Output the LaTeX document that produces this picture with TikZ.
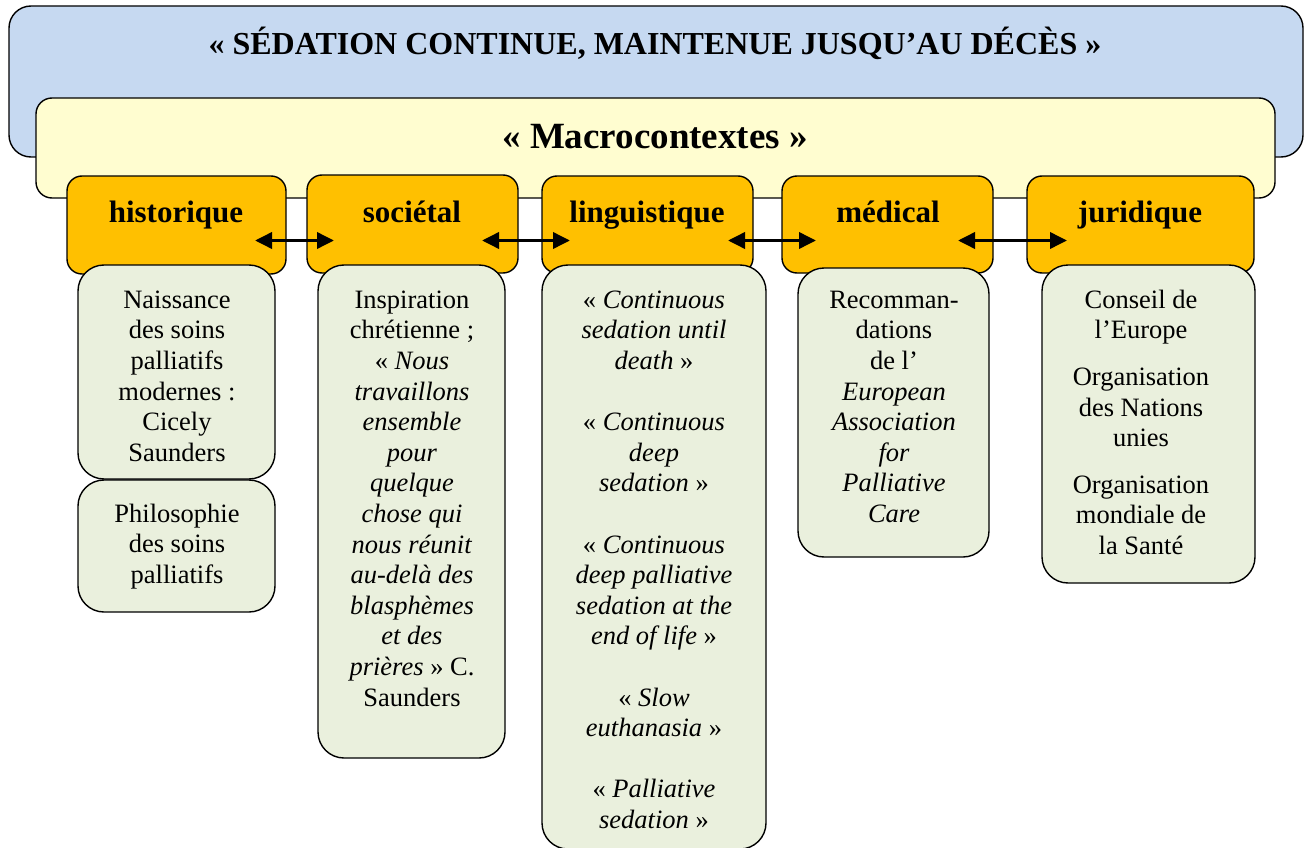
\documentclass[tikz,border=0pt]{standalone}
\usepackage{fontspec}
\setmainfont{Liberation Serif}
\usetikzlibrary{arrows.meta}
\definecolor{bluebg}{HTML}{C6D9F1}
\definecolor{yellowbg}{HTML}{FFFDD0}
\definecolor{orangebg}{HTML}{FFC000}
\definecolor{greenbg}{HTML}{EAF0DD}
\tikzset{
  box/.style={draw=black, line width=1.4pt, inner sep=0pt, outer sep=0pt, anchor=north west},
  bluebox/.style={box, fill=bluebg, rounded corners=22pt},
  yellowbox/.style={box, fill=yellowbg, rounded corners=16pt},
  orangebox/.style={box, fill=orangebg, rounded corners=15pt},
  greenbox/.style={box, fill=greenbg, rounded corners=26pt},
  title/.style={font={\fontsize{32}{36}\selectfont\bfseries}, inner sep=0pt, anchor=base},
  macro/.style={font={\fontsize{37}{40}\selectfont\bfseries}, inner sep=0pt, anchor=base},
  label/.style={font={\fontsize{31}{34}\selectfont\bfseries}, inner sep=0pt, anchor=base},
  gtext/.style={font={\fontsize{26.5}{30.6}\selectfont}, align=center, inner sep=0pt, anchor=north},
  link/.style={line width=3.6pt, {Triangle[length=17pt 0,width=16pt 0]}-{Triangle[length=17pt 0,width=16pt 0]}}
}
\newcommand{\mkbox}[6]{\node[#2, minimum width={(#5-#3)*1pt}, minimum height={(#6-#4)*1pt}] (#1) at (#3,#4) {};}
\begin{document}
\begin{tikzpicture}[x=1pt,y=-1pt]
\useasboundingbox (0,0) rectangle (1304,848);
\fill[white] (0,0) rectangle (1304,848);
% outer boxes
\mkbox{outer}{bluebox}{9}{6}{1303}{157}
\mkbox{macrobox}{yellowbox}{36}{98}{1275}{198}
\node[title] (titletext) at (655,55) {« SÉDATION CONTINUE, MAINTENUE JUSQU’AU DÉCÈS »};
\node[macro] (macrotext) at (655,149) {« Macrocontextes »};
% orange boxes
\mkbox{hist}{orangebox}{67}{176}{286}{274}
\mkbox{soc}{orangebox}{307}{175}{518}{273}
\mkbox{ling}{orangebox}{542}{176}{753}{273}
\mkbox{med}{orangebox}{782}{176}{993}{273}
\mkbox{jur}{orangebox}{1027}{176}{1254}{273}
\node[label] (histlab) at (176,222) {historique};
\node[label] (soclab) at (412,222) {sociétal};
\node[label] (linglab) at (647,222) {linguistique};
\node[label] (medlab) at (888,222) {médical};
\node[label] (jurlab) at (1140,222) {juridique};
% arrows
\coordinate (a1s) at (255,240.5); \coordinate (a1e) at (334,240.5);
\coordinate (a2s) at (482,240.5); \coordinate (a2e) at (570,240.5);
\coordinate (a3s) at (728,240.5); \coordinate (a3e) at (816,240.5);
\coordinate (a4s) at (958,240.5); \coordinate (a4e) at (1067,240.5);
\draw[link] (a1s) -- (a1e);
\draw[link] (a2s) -- (a2e);
\draw[link] (a3s) -- (a3e);
\draw[link] (a4s) -- (a4e);
% green boxes
\mkbox{histA}{greenbox}{78}{265}{275}{479}
\mkbox{histB}{greenbox}{78}{480}{275}{612}
\mkbox{socg}{greenbox}{318}{265}{505}{758}
\mkbox{lingg}{greenbox}{542}{265}{766}{849}
\mkbox{medg}{greenbox}{798}{268}{989}{557}
\mkbox{jurg}{greenbox}{1042}{265}{1255}{583}
% green texts
\node[gtext] (histAt) at (177,286.6) {\strut Naissance\\des soins\\palliatifs\\modernes :\\Cicely\\Saunders};
\node[gtext] (histBt) at (177,500.6) {\strut Philosophie\\des soins\\palliatifs};
\node[gtext] (socgt) at (412,286.6) {\strut Inspiration\\chrétienne ;\\« \textit{Nous}\\\textit{travaillons}\\\textit{ensemble}\\\textit{pour}\\\textit{quelque}\\\textit{chose qui}\\\textit{nous réunit}\\\textit{au-delà des}\\\textit{blasphèmes}\\\textit{et des}\\\textit{prières} » C.\\Saunders};
\node[gtext] (linggt) at (654,286.6) {\strut « \textit{Continuous}\\\textit{sedation until}\\\textit{death} »\\[30.6pt]« \textit{Continuous}\\\textit{deep}\\\textit{sedation} »\\[30.6pt]« \textit{Continuous}\\\textit{deep palliative}\\\textit{sedation at the}\\\textit{end of life} »\\[30.6pt]« \textit{Slow}\\\textit{euthanasia} »\\[30.6pt]« \textit{Palliative}\\\textit{sedation} »};
\node[gtext] (medgt) at (894,286.6) {\strut Recomman-\\dations\\de l’\\\textit{European}\\\textit{Association}\\\textit{for}\\\textit{Palliative}\\\textit{Care}};
\node[gtext] (jurgt) at (1141,286.6) {\strut Conseil de\\l’Europe\\[16pt]Organisation\\des Nations\\unies\\[16pt]Organisation\\mondiale de\\la Santé};
\end{tikzpicture}
\end{document}
